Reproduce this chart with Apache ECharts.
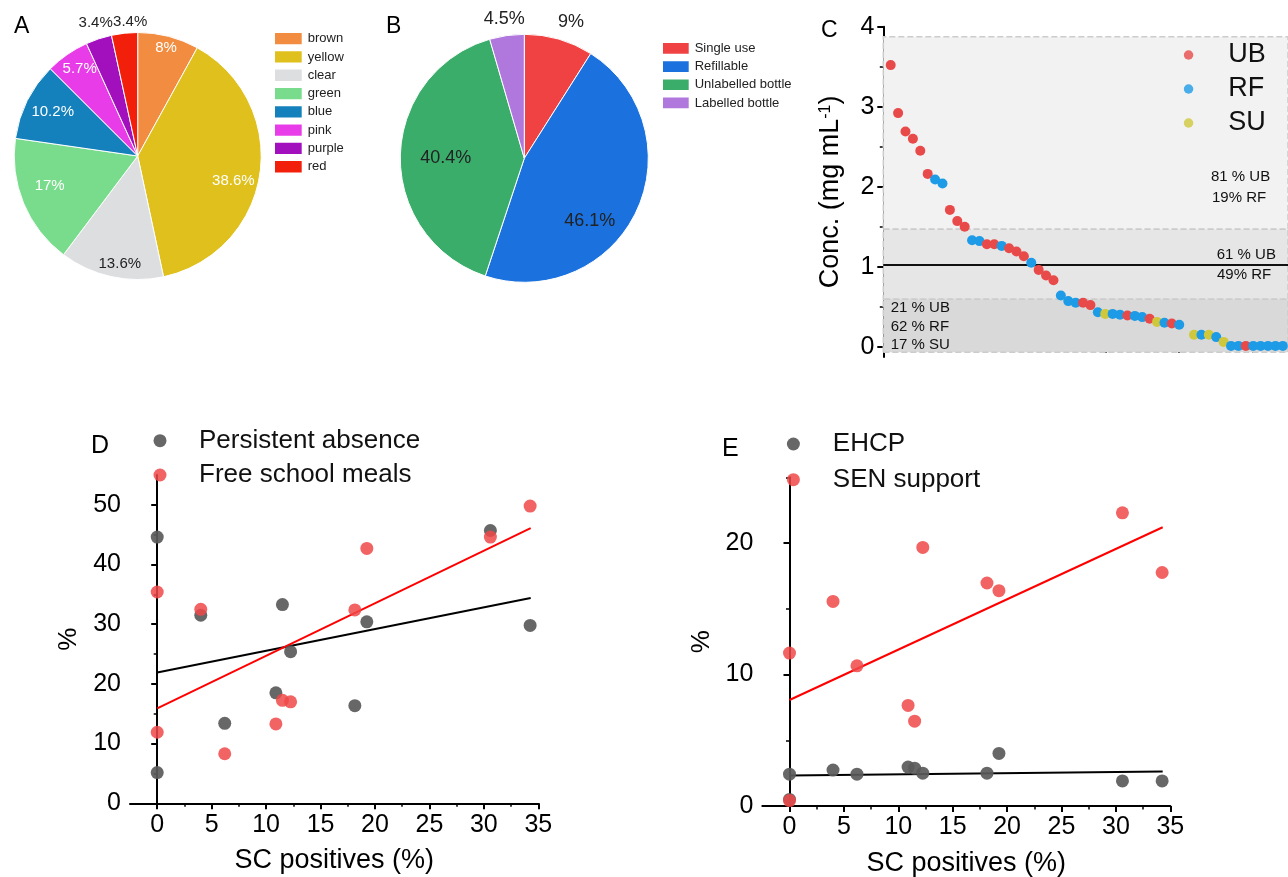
<!DOCTYPE html>
<html><head><meta charset="utf-8">
<script src="https://cdn.jsdelivr.net/npm/echarts@6/dist/echarts.min.js"></script>
<style>html,body{margin:0;padding:0;background:#fff}#c{width:1288px;height:877px}</style>
</head><body><div id="c"></div>
<script>
// ---------------- DATA ----------------
// Panel A – bottle colour shares (%)
const colourNames = ['brown','yellow','clear','green','blue','pink','purple','red'];
const colourShares = [8, 38.6, 13.6, 17, 10.2, 5.7, 3.4, 3.4];
// Panel B – container type shares (%)
const typeNames = ['Single use','Refillable','Unlabelled bottle','Labelled bottle'];
const typeShares = [9, 46.1, 40.4, 4.5];
// Panel C – concentration per sample (mg/mL), ranked
const concGroups = ['UB','RF','SU'];
const sampleIndex = [1,2,3,4,5,6,7,8,9,10,11,12,13,14,15,16,17,18,19,20,21,22,23,24,25,26,27,28,29,30,31,32,33,34,35,36,37,38,39,40,42,43,44,45,46,47,48,49,50,51,52,53,54];
const sampleConc = [3.52,2.92,2.69,2.60,2.45,2.16,2.09,2.04,1.71,1.57,
  1.50,1.33,1.32,1.28,1.28,1.26,1.23,1.19,1.13,1.05,
  0.96,0.89,0.83,0.64,0.57,0.55,0.55,0.52,0.43,0.41,
  0.41,0.40,0.39,0.385,0.37,0.35,0.31,0.30,0.29,0.275,
  0.15,0.15,0.15,0.12,0.06,0.01,0.01,0.01,0.01,0.01,0.01,0.01,0.01];
const sampleType = ['UB','UB','UB','UB','UB','UB','RF','RF','UB','UB',
  'UB','RF','RF','UB','UB','RF','UB','UB','UB','RF',
  'UB','UB','UB','RF','RF','RF','UB','UB','RF','SU',
  'RF','RF','UB','RF','RF','UB','SU','RF','UB','RF',
  'SU','RF','SU','RF','SU','RF','RF','UB','RF','RF','RF','RF','RF'];
const concBands = [3.875, 1.467, 0.592, -0.07];
const concThreshold = 1.03;
const bandTexts = [['81 % UB','19% RF'],['61 % UB','49% RF'],['21 % UB','62 % RF','17 % SU']];
// Panels D & E – school indicators vs SC positives (%)
const scPositives = [0, 0, 4, 6.2, 10.9, 11.5, 12.25, 18.15, 19.25, 30.6, 34.25];
const persistentAbsence = [44.6, 5.15, 31.5, 13.4, 18.5, 33.3, 25.4, 16.35, 30.4, 45.7, 29.8];
const freeSchoolMeals = [35.4, 11.9, 32.5, 8.3, 13.3, 17.25, 17.0, 32.4, 42.7, 44.6, 49.8];
const ehcp = [2.42, 0.5, 2.73, 2.42, 2.96, 2.88, 2.5, 2.5, 4.0, 1.91, 1.91];
const senSupport = [11.63, 0.41, 15.56, 10.66, 7.65, 6.45, 19.67, 16.96, 16.38, 22.3, 17.76];
// linear fits (end points)
const fitX = [0, 34.3];
const fitAbsence = [21.9, 34.4];
const fitMeals = [15.9, 46.1];
const fitEhcp = [2.32, 2.63];
const fitSen = [8.06, 21.2];
// tick values
const dTicksX = [0,5,10,15,20,25,30,35];
const dMinorX = [2.5,7.5,12.5,17.5,22.5,27.5,32.5];
const dTicksY = [0,10,20,30,40,50];
const dMinorY = [5,15,25,35,45];
const eTicksY = [0,10,20];
const eMinorY = [5,15,25];
const cTicksY = [0,1,2,3,4];
const cMinorY = [0.5,1.5,2.5,3.5];
const cTicksX = [0,10,20,30,40,50];
const cMinorX = [5,15,25,35,45];

// ---------------- STYLE ----------------
const FONT = 'Liberation Sans, Arial, sans-serif';
const colourPalette = ['#f28c40','#dfc01c','#dcdee0','#79dc8c','#1481bc','#e83ce8','#a20fbd','#f2200b'];
const colourLabelColor = ['#fff','#fff','#222','#fff','#fff','#fff','#222','#222'];
const colourOuter = [false,false,false,false,false,false,true,true];
const colourOffset = [[3,-10],[-5,10],[4,8],[6,-9],[6,1],[0,-4],[1,-4],[7,1]];
const typePalette = ['#f04242','#1b71dd','#3aad6b','#b077dd'];
const typeOuter = [true,false,false,true];
const typeOffset = [[7,0],[-10,27],[5,1],[0,1]];
const groupColor = {UB:'#e84a4a', RF:'#1e9be6', SU:'#cfc83c'};
const grey = '#5a5a5a', red = '#f04848';

const chart = echarts.init(document.getElementById('c'), null, {renderer:'canvas'});

function pieSeries(names, values, palette, center, r, outerFlags, offsets, labelColors, fontSize, inner, outer) {
  const base = {
    type:'pie', center, radius:[0, r], startAngle:90, clockwise:true, silent:true,
    emphasis:{disabled:true}, label:{show:false}, labelLine:{show:false},
    itemStyle:{borderColor:'#fff', borderWidth:1},
    data: names.map((n,i)=>({name:n, value:values[i], itemStyle:{color:palette[i]}}))
  };
  const ring = (rad, wantOuter) => ({
    type:'pie', center, radius:rad, startAngle:90, clockwise:true, silent:true,
    emphasis:{disabled:true}, labelLine:{show:false}, avoidLabelOverlap:false,
    itemStyle:{color:'rgba(0,0,0,0)', borderWidth:0},
    data: names.map((n,i)=>({name:n, value:values[i],
      itemStyle:{color:'rgba(0,0,0,0)'},
      label:{show: outerFlags[i] === wantOuter, position:'inside', offset:offsets[i],
        formatter: p => p.value + '%', color: labelColors[i], fontSize, fontFamily:FONT}}))
  });
  return [base, ring(inner, false), ring(outer, true)];
}

const axisLineStyle = {show:true, lineStyle:{color:'#000', width:2}};
function mainAxis(grid, min, max, ticks, extra) {
  return Object.assign({
    type:'value', gridIndex:grid, min, max, splitLine:{show:false},
    axisLine:axisLineStyle,
    axisTick:{show:true, inside:false, length:6, customValues:ticks, lineStyle:{color:'#000', width:2}},
    axisLabel:{show:true, customValues:ticks, color:'#000', fontFamily:FONT, fontSize:25, margin:9},
  }, extra);
}
function minorAxis(grid, min, max, ticks, pos) {
  return {
    type:'value', gridIndex:grid, min, max, position:pos, offset:0, splitLine:{show:false},
    axisLine:{show:false},
    axisTick:{show:true, inside:false, length:3.5, customValues:ticks, lineStyle:{color:'#000', width:1.5}},
    axisLabel:{show:false}
  };
}

const option = {
  animation:false,
  backgroundColor:'#fff',
  textStyle:{fontFamily:FONT},
  grid:[
    {left:883.3, top:26.7, width:404.7, height:330.4, containLabel:false, outerBoundsMode:'none'},
    {left:130, top:475, width:408.3, height:328.3, containLabel:false, outerBoundsMode:'none'},
    {left:762.3, top:477.3, width:408, height:328.7, containLabel:false, outerBoundsMode:'none'}
  ],
  xAxis:[
    mainAxis(0, 0, 54.7, cTicksX, {position:'bottom', axisLabel:{show:false}}),
    minorAxis(0, 0, 54.7, cMinorX, 'bottom'),
    mainAxis(1, -2.5, 35, dTicksX, {position:'bottom', name:'SC positives (%)', nameLocation:'middle', nameGap:44,
      nameTextStyle:{fontSize:27, color:'#000', fontFamily:FONT}}),
    minorAxis(1, -2.5, 35, dMinorX, 'bottom'),
    mainAxis(2, -2.5, 35, dTicksX, {position:'bottom', name:'SC positives (%)', nameLocation:'middle', nameGap:44,
      nameTextStyle:{fontSize:27, color:'#000', fontFamily:FONT}}),
    minorAxis(2, -2.5, 35, dMinorX, 'bottom')
  ],
  yAxis:[
    mainAxis(0, -0.13, 4, cTicksY, {position:'left', name:'Conc. (mg mL{sup|-1})', nameLocation:'middle', nameGap:39,
      nameTextStyle:{fontSize:27, color:'#000', fontFamily:FONT,
        rich:{sup:{fontSize:16, color:'#000', fontFamily:FONT, verticalAlign:'top'}}}}),
    minorAxis(0, -0.13, 4, cMinorY, 'left'),
    mainAxis(1, 0, 55, dTicksY, {position:'left', name:'%', nameLocation:'middle', nameGap:48,
      nameTextStyle:{fontSize:26, color:'#000', fontFamily:FONT}}),
    minorAxis(1, 0, 55, dMinorY, 'left'),
    mainAxis(2, 0, 25, eTicksY, {position:'left', name:'%', nameLocation:'middle', nameGap:47,
      nameTextStyle:{fontSize:26, color:'#000', fontFamily:FONT}}),
    minorAxis(2, 0, 25, eMinorY, 'left')
  ],
  legend:[
    {data:colourNames, orient:'vertical', left:268, top:26, icon:'rect', itemWidth:28.7, itemHeight:13.3, itemGap:3,
      textStyle:{fontSize:13, lineHeight:13, color:'#222', fontFamily:FONT}, selectedMode:false},
    {data:typeNames, orient:'vertical', left:656, top:36, icon:'rect', itemWidth:27.7, itemHeight:12.7, itemGap:3.5,
      textStyle:{fontSize:13, lineHeight:12.7, color:'#222', fontFamily:FONT}, selectedMode:false},
    {data:concGroups, orient:'vertical', left:1178.8, top:35, icon:'circle', itemWidth:69.4, itemHeight:9.5, itemGap:4,
      textStyle:{fontSize:27, lineHeight:30, color:'#111', fontFamily:FONT}, selectedMode:false},
    {data:['Persistent absence','Free school meals'], orient:'vertical', left:148.5, top:420.7, icon:'circle',
      itemWidth:68, itemHeight:13, itemGap:4.3, textStyle:{fontSize:26, lineHeight:30, color:'#111', fontFamily:FONT}, selectedMode:false},
    {data:['EHCP','SEN support'], orient:'vertical', left:781.9, top:424, icon:'circle',
      itemWidth:68.8, itemHeight:13, itemGap:5.7, textStyle:{fontSize:26, lineHeight:30, color:'#111', fontFamily:FONT}, selectedMode:false}
  ],
  graphic:[
    {type:'text', x:14, y:27, style:{text:'A', font:'23px '+FONT, fill:'#000', verticalAlign:'middle'}},
    {type:'text', x:386, y:27, style:{text:'B', font:'23px '+FONT, fill:'#000', verticalAlign:'middle'}},
    {type:'text', x:821, y:31, style:{text:'C', font:'23px '+FONT, fill:'#000', verticalAlign:'middle'}},
    {type:'text', x:91, y:446, style:{text:'D', font:'25px '+FONT, fill:'#000', verticalAlign:'middle'}},
    {type:'text', x:722, y:449, style:{text:'E', font:'25px '+FONT, fill:'#000', verticalAlign:'middle'}},
    {type:'text', x:1211, y:177, z:10, style:{text:bandTexts[0][0], font:'15px '+FONT, fill:'#111', verticalAlign:'middle'}},
    {type:'text', x:1212, y:198, z:10, style:{text:bandTexts[0][1], font:'15px '+FONT, fill:'#111', verticalAlign:'middle'}},
    {type:'text', x:1216.7, y:254.5, z:10, style:{text:bandTexts[1][0], font:'15px '+FONT, fill:'#111', verticalAlign:'middle'}},
    {type:'text', x:1217, y:275, z:10, style:{text:bandTexts[1][1], font:'15px '+FONT, fill:'#111', verticalAlign:'middle'}},
    {type:'text', x:890.7, y:308, z:10, style:{text:bandTexts[2][0], font:'15px '+FONT, fill:'#111', verticalAlign:'middle'}},
    {type:'text', x:890.7, y:326.7, z:10, style:{text:bandTexts[2][1], font:'15px '+FONT, fill:'#111', verticalAlign:'middle'}},
    {type:'text', x:890.7, y:345, z:10, style:{text:bandTexts[2][2], font:'15px '+FONT, fill:'#111', verticalAlign:'middle'}}
  ],
  series:[
    ...pieSeries(colourNames, colourShares, colourPalette, [137.7,156], 123.5, colourOuter, colourOffset, colourLabelColor, 15, [74,123.5], [123.5,143.3]),
    ...pieSeries(typeNames, typeShares, typePalette, [524.3,158.3], 124, typeOuter, typeOffset, ['#222','#222','#222','#222'], 18, [37.2,124], [124,153.8]),
    // Panel C background bands + threshold
    {type:'line', name:'bands', xAxisIndex:0, yAxisIndex:0, data:[], z:1, silent:true,
      markArea:{silent:true, itemStyle:{borderType:'dashed', borderColor:'#cccccc', borderWidth:1.5},
        data:[
          [{yAxis:concBands[1], itemStyle:{color:'#f2f2f2'}}, {yAxis:concBands[0]}],
          [{yAxis:concBands[2], itemStyle:{color:'#e6e6e6'}}, {yAxis:concBands[1]}],
          [{yAxis:concBands[3], itemStyle:{color:'#d9d9d9'}}, {yAxis:concBands[2]}]
        ]},
      markLine:{silent:true, symbol:['none','none'], label:{show:false},
        lineStyle:{color:'#111', width:2, type:'solid'}, data:[{yAxis:concThreshold}]}},
    ...concGroups.map(g => ({type:'scatter', name:g, xAxisIndex:0, yAxisIndex:0, data:[], itemStyle:{color:groupColor[g]}})),
    {type:'scatter', name:'samples', xAxisIndex:0, yAxisIndex:0, symbolSize:10, z:5, silent:true,
      data: sampleIndex.map((x,i)=>[x, sampleConc[i], sampleType[i]]),
      itemStyle:{color: p => groupColor[p.data[2]], opacity:1}},
    // Panel D
    {type:'line', name:'fitAbsence', xAxisIndex:2, yAxisIndex:2, showSymbol:false, silent:true, z:2,
      data: fitX.map((x,i)=>[x, fitAbsence[i]]), lineStyle:{color:'#000', width:2}},
    {type:'line', name:'fitMeals', xAxisIndex:2, yAxisIndex:2, showSymbol:false, silent:true, z:2,
      data: fitX.map((x,i)=>[x, fitMeals[i]]), lineStyle:{color:'#ff0000', width:2}},
    {type:'scatter', name:'Persistent absence', xAxisIndex:2, yAxisIndex:2, symbolSize:13, z:4,
      data: scPositives.map((x,i)=>[x, persistentAbsence[i]]), itemStyle:{color:grey, opacity:0.92}},
    {type:'scatter', name:'Free school meals', xAxisIndex:2, yAxisIndex:2, symbolSize:13, z:5,
      data: scPositives.map((x,i)=>[x, freeSchoolMeals[i]]), itemStyle:{color:red, opacity:0.85}},
    // Panel E
    {type:'line', name:'fitEhcp', xAxisIndex:4, yAxisIndex:4, showSymbol:false, silent:true, z:2,
      data: fitX.map((x,i)=>[x, fitEhcp[i]]), lineStyle:{color:'#000', width:2}},
    {type:'line', name:'fitSen', xAxisIndex:4, yAxisIndex:4, showSymbol:false, silent:true, z:2,
      data: fitX.map((x,i)=>[x, fitSen[i]]), lineStyle:{color:'#ff0000', width:2}},
    {type:'scatter', name:'EHCP', xAxisIndex:4, yAxisIndex:4, symbolSize:13, z:4,
      data: scPositives.map((x,i)=>[x, ehcp[i]]), itemStyle:{color:grey, opacity:0.92}},
    {type:'scatter', name:'SEN support', xAxisIndex:4, yAxisIndex:4, symbolSize:13, z:5,
      data: scPositives.map((x,i)=>[x, senSupport[i]]), itemStyle:{color:red, opacity:0.85}}
  ]
};
chart.setOption(option);
</script>
</body></html>
